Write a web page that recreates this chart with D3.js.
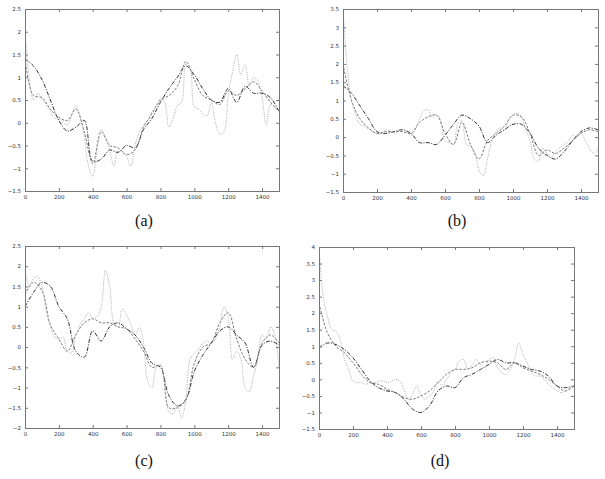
<!DOCTYPE html>
<html>
<head>
<meta charset="utf-8">
<script src="https://cdn.jsdelivr.net/npm/d3@7"></script>
<style>
  body { margin: 0; background: #fff; }
  svg { display: block; }
</style>
</head>
<body>
<svg id="chart" width="605" height="479"></svg>
<script>
// x positions shared by all curves
const xsCoarse = d3.range(0, 1501, 50);
const xsFine = d3.range(0, 1501, 25);
const xTicks = [0, 200, 400, 600, 800, 1000, 1200, 1400];
const captions = ["(a)", "(b)", "(c)", "(d)"];
const yDomains = [[-1.5, 2.5], [-1.5, 3.5], [-2, 2.5], [-1.5, 4]];

// panel (a)
const aDark = [1.4, 1.25, 0.95, 0.5, 0.05, -0.18, -0.1, 0.05, -0.85, -0.8, -0.6, -0.65, -0.5, -0.55, -0.15, 0.1,
  0.45, 0.75, 1.0, 1.25, 1.05, 0.75, 0.5, 0.45, 0.75, 0.45, 0.8, 0.65, 0.65, 0.55, 0.25];
const aDash = [1.4, 0.6, 0.55, 0.3, 0.12, 0.05, 0.3, -0.2, -0.9, -0.2, -0.5, -0.55, -0.7, -0.6, -0.1, 0.2,
  0.5, 0.6, 0.8, 1.35, 0.95, 0.6, 0.5, 0.4, 0.7, 0.6, 0.75, 0.9, 0.7, 0.45, 0.25];
const aDot = [2.0, 1.0, 0.5, 0.65, 0.55, 0.4, 0.25, 0.1, 0.08, 0.0, -0.05, 0.15, 0.38, 0.15, -0.3, -0.95,
  -1.18, -0.6, -0.15, -0.3, -0.6, -0.95, -0.6, -0.65, -0.75, -0.95, -0.5, -0.2, -0.05, 0.05, 0.25, 0.35,
  0.55, 0.45, -0.1, 0.1, 0.38, 0.45, 1.3, 1.2, 0.35, 0.3, 0.2, 0.15, 0.45, 0.0, -0.25, -0.2,
  0.6, 1.1, 1.5, 1.05, 1.28, 0.8, 1.0, 0.9, 0.55, -0.05, 0.4, 0.35, 0.25];

// panel (b)
const bDark = [1.4, 1.2, 0.85, 0.5, 0.15, 0.1, 0.15, 0.2, 0.1, -0.15, -0.15, -0.2, 0.05, 0.35, 0.6, 0.5,
  0.3, -0.15, 0.05, 0.2, 0.35, 0.35, 0.1, -0.3, -0.5, -0.6, -0.4, -0.1, 0.15, 0.25, 0.2];
const bDash = [2.0, 1.0, 0.5, 0.25, 0.1, 0.15, 0.15, 0.15, 0.1, 0.4, 0.55, 0.6, 0.1, -0.2, 0.4, -0.2,
  -0.6, -0.1, 0.1, 0.3, 0.6, 0.55, 0.1, -0.5, -0.35, -0.45, -0.3, -0.1, 0.1, 0.2, 0.15];
const bDot = [3.5, 1.9, 1.0, 0.6, 0.35, 0.3, 0.22, 0.15, 0.08, 0.1, 0.2, 0.18, 0.12, 0.15, 0.2, 0.15,
  0.05, 0.2, 0.5, 0.72, 0.75, 0.55, 0.6, 0.45, -0.1, -0.15, -0.2, 0.35, 0.45, -0.2, -0.25, -0.4,
  -0.9, -1.05, -0.6, -0.1, 0.15, 0.25, 0.2, 0.5, 0.6, 0.65, 0.55, 0.2, -0.1, -0.6, -0.65, -0.3,
  -0.45, -0.55, -0.4, -0.3, -0.2, -0.1, 0.05, 0.0, 0.1, -0.1, -0.3, -0.45, -0.3];

// panel (c)
const cDark = [1.0, 1.35, 1.6, 1.5, 1.0, 0.7, -0.1, -0.25, 0.4, 0.15, 0.5, 0.6, 0.45, 0.3, 0.0, -0.4,
  -0.5, -1.2, -1.45, -1.3, -0.6, -0.2, 0.1, 0.4, 0.5, 0.3, 0.1, -0.5, 0.05, 0.15, 0.05];
const cDash = [1.3, 1.6, 1.4, 0.55, 0.2, -0.1, 0.3, 0.6, 0.7, 0.6, 0.6, 0.5, 0.45, 0.2, -0.1, -0.5,
  -0.45, -1.5, -1.5, -1.3, -0.4, 0.0, 0.1, 0.6, 0.85, 0.2, -0.3, -0.5, 0.1, 0.3, 0.1];
const cDot = [1.95, 1.5, 1.7, 1.75, 1.5, 0.9, 0.5, 0.25, 0.2, 0.25, -0.1, -0.15, 0.3, 0.55, 0.7, 0.85,
  0.7, 0.75, 1.0, 1.9, 1.5, 0.6, 0.5, 0.95, 0.8, 0.55, 0.3, 0.5, 0.1, -0.85, -1.0, -0.5,
  -0.45, -0.9, -1.6, -1.65, -1.45, -1.75, -1.3, -0.3, -0.15, -0.05, 0.1, 0.15, 0.1, 0.2, 0.5, 1.0,
  0.75, -0.3, -0.1, -0.3, -1.0, -1.1, -0.7, -0.3, 0.3, 0.2, 0.5, 0.3, -0.5];

// panel (d)
const dDark = [0.95, 1.1, 1.05, 0.9, 0.65, 0.3, -0.05, -0.25, -0.35, -0.4, -0.6, -0.9, -1.0, -0.8, -0.35, -0.2,
  -0.25, 0.05, 0.15, 0.3, 0.45, 0.6, 0.5, 0.5, 0.4, 0.3, 0.25, 0.1, -0.2, -0.25, -0.2];
const dDash = [2.3, 1.4, 1.0, 0.8, 0.5, 0.15, -0.1, -0.15, -0.3, -0.4, -0.55, -0.6, -0.5, -0.35, -0.1, 0.15,
  0.3, 0.3, 0.35, 0.5, 0.55, 0.5, 0.3, 0.5, 0.35, 0.25, 0.15, 0.0, -0.2, -0.35, -0.2];
const dDot = [4.0, 2.5, 1.9, 1.5, 1.45, 1.2, 0.6, 0.3, -0.05, -0.1, -0.1, -0.15, -0.1, -0.1, -0.05, -0.05,
  -0.1, -0.05, 0.0, -0.05, -0.3, -0.6, -0.45, -0.2, -0.5, -0.6, -0.5, -0.35, -0.05, -0.2, 0.0, 0.2,
  0.3, 0.55, 0.6, 0.3, 0.45, 0.6, 0.45, 0.35, 0.6, 0.65, 0.35, 0.2, 0.15, 0.3, 0.6, 1.1,
  0.75, 0.5, 0.2, 0.1, 0.1, 0.0, -0.15, -0.25, -0.35, -0.4, -0.35, -0.25, -0.2];

const seriesData = [[aDark, aDash, aDot], [bDark, bDash, bDot], [cDark, cDash, cDot], [dDark, dDash, dDot]];

// layout of the four plot frames
const frames = [
  {left: 25, right: 279, top: 9, bottom: 191, capX: 144, capY: 226},
  {left: 343, right: 598, top: 9, bottom: 192, capX: 457, capY: 226},
  {left: 25, right: 279, top: 246, bottom: 428, capX: 144, capY: 466},
  {left: 319, right: 574, top: 247, bottom: 429, capX: 440, capY: 466}
];
const styles = [
  {stroke: "#1a1a1a", dash: "4,1.5,1,1.5", xs: xsCoarse},
  {stroke: "#6a6a6a", dash: "2.5,1.5", xs: xsCoarse},
  {stroke: "#a8a8a8", dash: "1,1.2", xs: xsFine}
];

const svg = d3.select("#chart");

frames.forEach((f, i) => {
  const x = d3.scaleLinear().domain([0, 1500]).range([f.left, f.right]);
  const y = d3.scaleLinear().domain(yDomains[i]).range([f.bottom, f.top]);
  const yTicks = d3.range(yDomains[i][0], yDomains[i][1] + 0.001, 0.5);
  const g = svg.append("g");

  // clip the curves to the frame
  const clipId = "clip" + i;
  g.append("clipPath").attr("id", clipId)
    .append("rect").attr("x", f.left).attr("y", f.top)
    .attr("width", f.right - f.left).attr("height", f.bottom - f.top);

  const lines = g.append("g").attr("clip-path", `url(#${clipId})`);
  seriesData[i].forEach((vals, k) => {
    const st = styles[k];
    const line = d3.line()
      .x((d, j) => x(st.xs[j]))
      .y(d => y(d))
      .curve(d3.curveCatmullRom.alpha(0.5));
    lines.append("path")
      .attr("d", line(vals))
      .attr("fill", "none")
      .attr("stroke", st.stroke)
      .attr("stroke-width", 0.9)
      .attr("stroke-dasharray", st.dash);
  });

  // axes with inward ticks on all four sides
  const tick = 3;
  const bottom = g.append("g").attr("transform", `translate(0,${f.bottom})`)
    .call(d3.axisBottom(x).tickValues(xTicks).tickSize(-tick).tickPadding(4).tickFormat(d3.format("d")));
  const top = g.append("g").attr("transform", `translate(0,${f.top})`)
    .call(d3.axisTop(x).tickValues(xTicks).tickSize(-tick).tickFormat(""));
  const left = g.append("g").attr("transform", `translate(${f.left},0)`)
    .call(d3.axisLeft(y).tickValues(yTicks).tickSize(-tick).tickPadding(4).tickFormat(d => d3.format("")(+d.toFixed(1))));
  const right = g.append("g").attr("transform", `translate(${f.right},0)`)
    .call(d3.axisRight(y).tickValues(yTicks).tickSize(-tick).tickFormat(""));

  [bottom, top, left, right].forEach(a => {
    a.select(".domain").attr("stroke", "#777").attr("stroke-width", 1);
    a.selectAll(".tick line").attr("stroke", "#777");
    a.selectAll("text").attr("font-family", "DejaVu Sans, sans-serif")
      .attr("font-size", 5.5).attr("fill", "#333");
  });

  svg.append("text")
    .attr("x", f.capX).attr("y", f.capY)
    .attr("text-anchor", "middle")
    .attr("font-family", "Liberation Serif, DejaVu Serif, serif")
    .attr("font-size", 16)
    .attr("fill", "#111")
    .text(captions[i]);
});
</script>
</body>
</html>
